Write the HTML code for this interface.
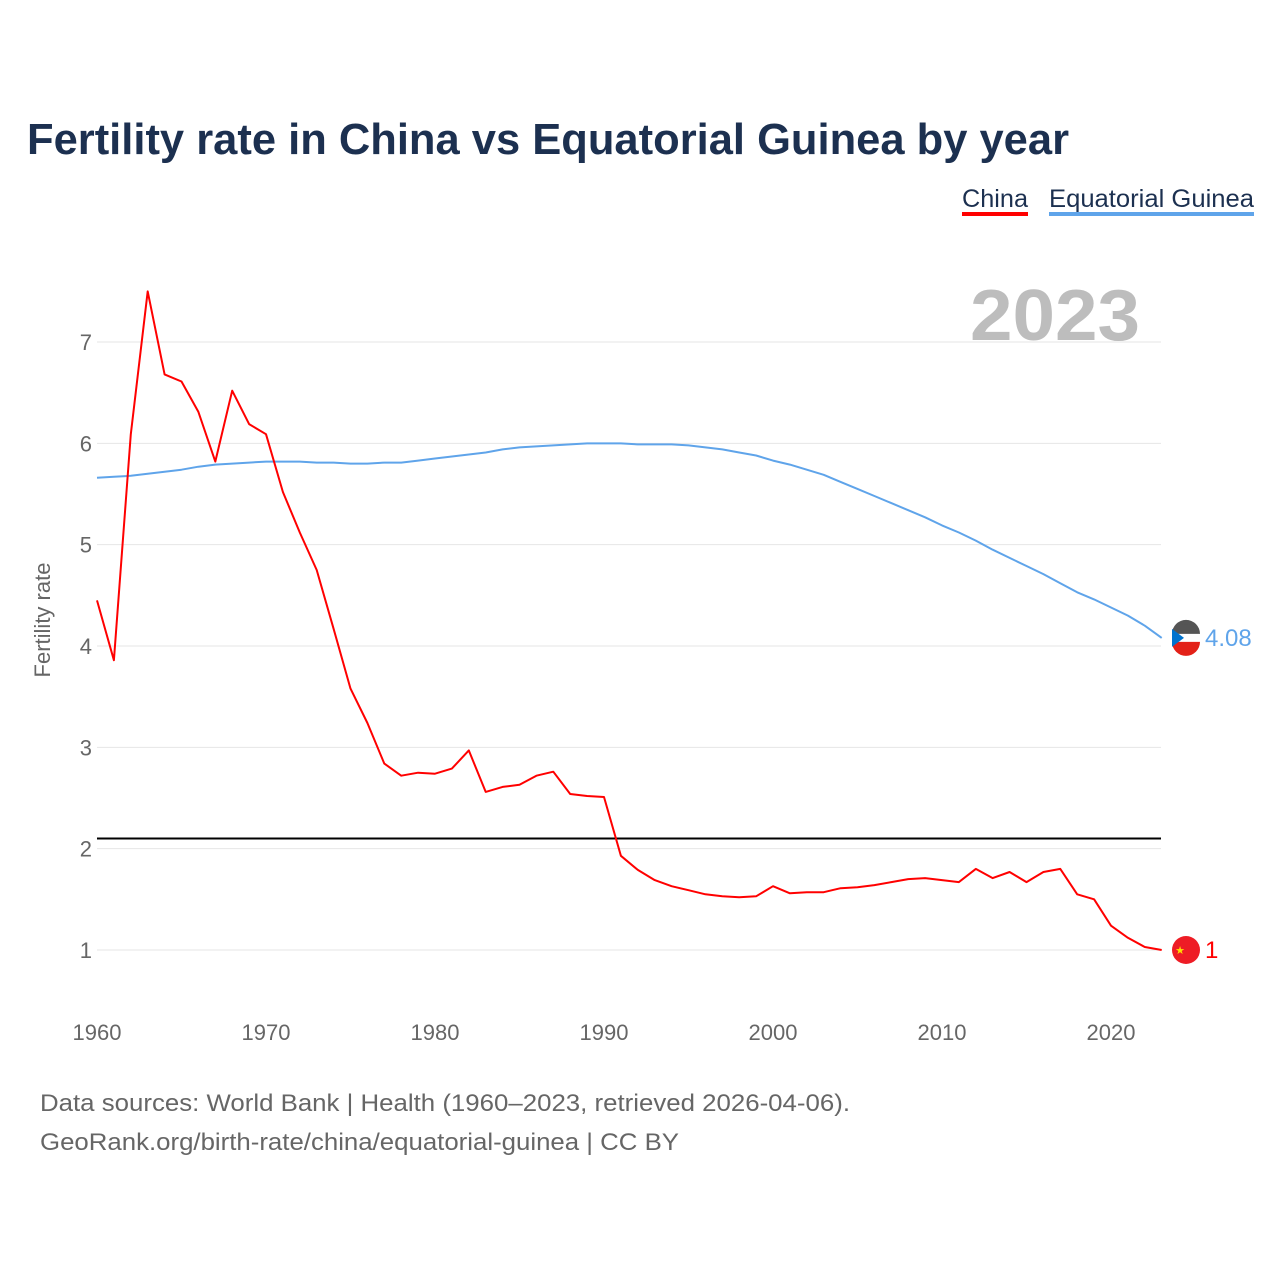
<!DOCTYPE html>
<html><head><meta charset="utf-8"><style>
body{margin:0;background:#fff;font-family:"Liberation Sans",sans-serif;}
#wrap{position:relative;width:1280px;height:1280px;overflow:hidden;}
</style></head><body>
<div id="wrap">
<svg id="chart" width="1280" height="1280">
<text x="27" y="154" font-size="44" font-weight="bold" fill="#1c3050" textLength="1042" lengthAdjust="spacingAndGlyphs">Fertility rate in China vs Equatorial Guinea by year</text>
<g>
<text x="962" y="207" font-size="25" fill="#1c3050" textLength="66" lengthAdjust="spacingAndGlyphs">China</text>
<rect x="962" y="212" width="66" height="4" fill="#ff0000"/>
<text x="1049" y="207" font-size="25" fill="#1c3050" textLength="205" lengthAdjust="spacingAndGlyphs">Equatorial Guinea</text>
<rect x="1049" y="212" width="205" height="4" fill="#5fa4ea"/>
</g>
<text x="1140" y="340" font-size="72" font-weight="bold" fill="#bdbdbd" text-anchor="end" textLength="170" lengthAdjust="spacingAndGlyphs">2023</text>
<text transform="translate(50,620) rotate(-90)" font-size="22" fill="#666" text-anchor="middle">Fertility rate</text>
<g id="grid"></g><g id="marks"></g>
<text x="40" y="1111" font-size="24" fill="#666" textLength="810" lengthAdjust="spacingAndGlyphs">Data sources: World Bank | Health (1960–2023, retrieved 2026-04-06).</text>
<text x="40" y="1150" font-size="24" fill="#666" textLength="639" lengthAdjust="spacingAndGlyphs">GeoRank.org/birth-rate/china/equatorial-guinea | CC BY</text>
</svg></div>
<script>
const years=[];for(let y=1960;y<=2023;y++)years.push(y);
const yTicks=[1,2,3,4,5,6,7];
const xTicks=[1960,1970,1980,1990,2000,2010,2020];
const replacementRate=[2.1];
const china=[4.45,3.86,6.09,7.5,6.68,6.61,6.31,5.82,6.52,6.19,6.09,5.52,5.12,4.75,4.17,3.58,3.24,2.84,2.72,2.75,2.74,2.79,2.97,2.56,2.61,2.63,2.72,2.76,2.54,2.52,2.51,1.93,1.79,1.69,1.63,1.59,1.55,1.53,1.52,1.53,1.63,1.56,1.57,1.57,1.61,1.62,1.64,1.67,1.70,1.71,1.69,1.67,1.80,1.71,1.77,1.67,1.77,1.80,1.55,1.50,1.24,1.12,1.03,1.00];
const eqGuinea=[5.66,5.67,5.68,5.70,5.72,5.74,5.77,5.79,5.80,5.81,5.82,5.82,5.82,5.81,5.81,5.80,5.80,5.81,5.81,5.83,5.85,5.87,5.89,5.91,5.94,5.96,5.97,5.98,5.99,6.00,6.00,6.00,5.99,5.99,5.99,5.98,5.96,5.94,5.91,5.88,5.83,5.79,5.74,5.69,5.62,5.55,5.48,5.41,5.34,5.27,5.19,5.12,5.04,4.95,4.87,4.79,4.71,4.62,4.53,4.46,4.38,4.30,4.20,4.08];
const NS="http://www.w3.org/2000/svg";
const x=v=>97+(v-1960)*16.9;
const y=v=>950-(v-1)*101.33;
function mk(t,a,p){const e=document.createElementNS(NS,t);for(const k in a)e.setAttribute(k,a[k]);p.appendChild(e);return e;}
const grid=document.getElementById('grid'),marks=document.getElementById('marks');
yTicks.forEach(t=>{
 const l=mk('line',{x1:97,x2:1161,y1:y(t),y2:y(t),stroke:'#e6e6e6','stroke-width':1},grid);
 
 
 const tx=mk('text',{x:92,y:y(t)+8,'font-size':22,fill:'#666','text-anchor':'end'},grid);tx.textContent=t;
 
 
});
xTicks.forEach(t=>{
 const tx=mk('text',{x:x(t),y:1040,'font-size':22,fill:'#666','text-anchor':'middle'},grid);tx.textContent=t;
 
 
});
const rl=mk('line',{x1:97,x2:1161,y1:y(replacementRate[0]),y2:y(replacementRate[0]),stroke:'#000','stroke-width':2},marks);


function series(d,col,name,lab,flag){
 const p=mk('path',{d:d.map((v,i)=>(i?'L':'M')+x(years[i]).toFixed(1)+','+y(v).toFixed(1)).join(''),fill:'none',stroke:col,'stroke-width':2,'stroke-linejoin':'round'},marks);
 
 
 const last=d[d.length-1],cy=y(last);
 const g=mk('g',{},marks);
 
 
 flag(g,1186,cy);
 const t=mk('text',{x:1205,y:cy+8,'font-size':24,fill:col},marks);t.textContent=lab;
 
 
}
series(eqGuinea,'#5fa4ea','equatorial-guinea','4.08',(g,cx,cy)=>{
 mk('circle',{cx,cy,r:14,fill:'#fff'},g);
 mk('path',{d:`M${cx-14},${cy-4} A14,14 0 0 1 ${cx+14},${cy-4} Z`,fill:'#555'},g);
 mk('path',{d:`M${cx-13},${cy-5} A14,14 0 0 1 ${cx+13},${cy-5} Z`,fill:'#555'},g);
 mk('path',{d:`M${cx-14},${cy+4} L${cx+14},${cy+4} A14,14 0 0 1 ${cx-14},${cy+4} Z`,fill:'#e32118'},g);
 mk('path',{d:`M${cx-14},${cy-9} L${cx-2},${cy} L${cx-14},${cy+9} Z`,fill:'#0073ce'},g);
});
series(china,'#ff0000','china','1',(g,cx,cy)=>{
 mk('circle',{cx,cy,r:14,fill:'#ee1c25'},g);
 const s=mk('text',{x:cx-6,y:cy+4,'font-size':11,fill:'#ffde00','text-anchor':'middle'},g);s.textContent='★';
});
</script>
</body></html>
